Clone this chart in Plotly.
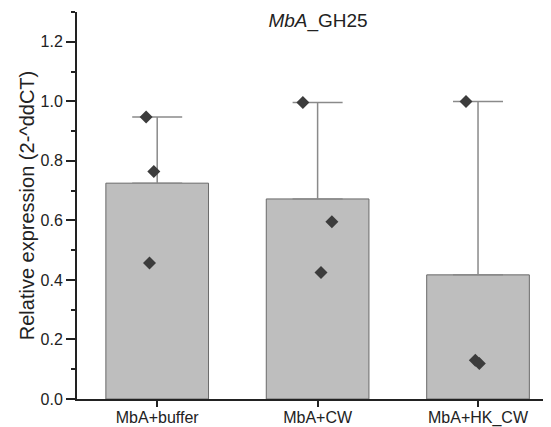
import plotly.graph_objects as go

categories = ["MbA+buffer", "MbA+CW", "MbA+HK_CW"]
means = [0.725, 0.672, 0.417]
err_upper = [0.222, 0.324, 0.582]
# individual replicate values and their horizontal jitter (category units)
rep_values = [
    [0.947, 0.764, 0.457],
    [0.996, 0.595, 0.425],
    [0.999, 0.130, 0.119],
]
rep_jitter = [
    [-0.069, -0.021, -0.048],
    [-0.092, 0.089, 0.021],
    [-0.075, -0.017, 0.008],
]
y_ticks = [0.0, 0.2, 0.4, 0.6, 0.8, 1.0, 1.2]

FONT = "Liberation Sans, Arial, sans-serif"
INK = "#222222"

fig = go.Figure()
xs = list(range(len(categories)))
fig.add_trace(go.Bar(
    x=xs, y=means, width=0.64,
    marker=dict(color="#bebebe", line=dict(color="#6a6a6a", width=1)),
    error_y=dict(type="data", symmetric=False, array=err_upper,
                 arrayminus=[0] * len(means), color="#8a8a8a",
                 thickness=1.5, width=25),
    showlegend=False, hoverinfo="skip",
))
px_, py_ = [], []
for i, (vals, jit) in enumerate(zip(rep_values, rep_jitter)):
    for v, j in zip(vals, jit):
        px_.append(i + j)
        py_.append(v)
fig.add_trace(go.Scatter(
    x=px_, y=py_, mode="markers",
    marker=dict(symbol="diamond", size=10, color="#3c3c3c"),
    showlegend=False,
))

# page body has an 8px margin, so the figure is sized to fill the rest
fig.update_layout(
    width=543, height=419,
    margin=dict(l=69, r=0, t=4, b=28, autoexpand=False),
    paper_bgcolor="white", plot_bgcolor="white",
    font=dict(family=FONT, size=16, color=INK),
    title=dict(text="<i>MbA</i>_GH25", x=0.571, xref="container", xanchor="center",
               y=0.971, yref="container", yanchor="middle",
               font=dict(family=FONT, size=19, color=INK)),
)
fig.update_xaxes(
    range=[-0.5, 2.455], tickvals=xs, ticktext=categories,
    showline=True, linecolor=INK, linewidth=2,
    ticks="outside", ticklen=6, tickwidth=2, tickcolor=INK,
    ticklabelstandoff=-3, automargin=False,
    showgrid=False, zeroline=False,
    tickfont=dict(family=FONT, size=16, color=INK),
)
fig.update_yaxes(
    range=[0, 1.30], tickvals=y_ticks, ticktext=[f"{t:.1f}" for t in y_ticks],
    showline=True, linecolor=INK, linewidth=2,
    ticks="outside", ticklen=9, tickwidth=2, tickcolor=INK,
    minor=dict(dtick=0.1, tick0=0.1, ticks="outside", ticklen=4,
               tickwidth=2, tickcolor=INK, showgrid=False),
    showgrid=False, zeroline=False, automargin=False,
    title=dict(text="Relative expression (2-^ddCT)", standoff=1,
               font=dict(family=FONT, size=20, color=INK)),
    tickfont=dict(family=FONT, size=16, color=INK),
)

fig.write_html("out.html")
